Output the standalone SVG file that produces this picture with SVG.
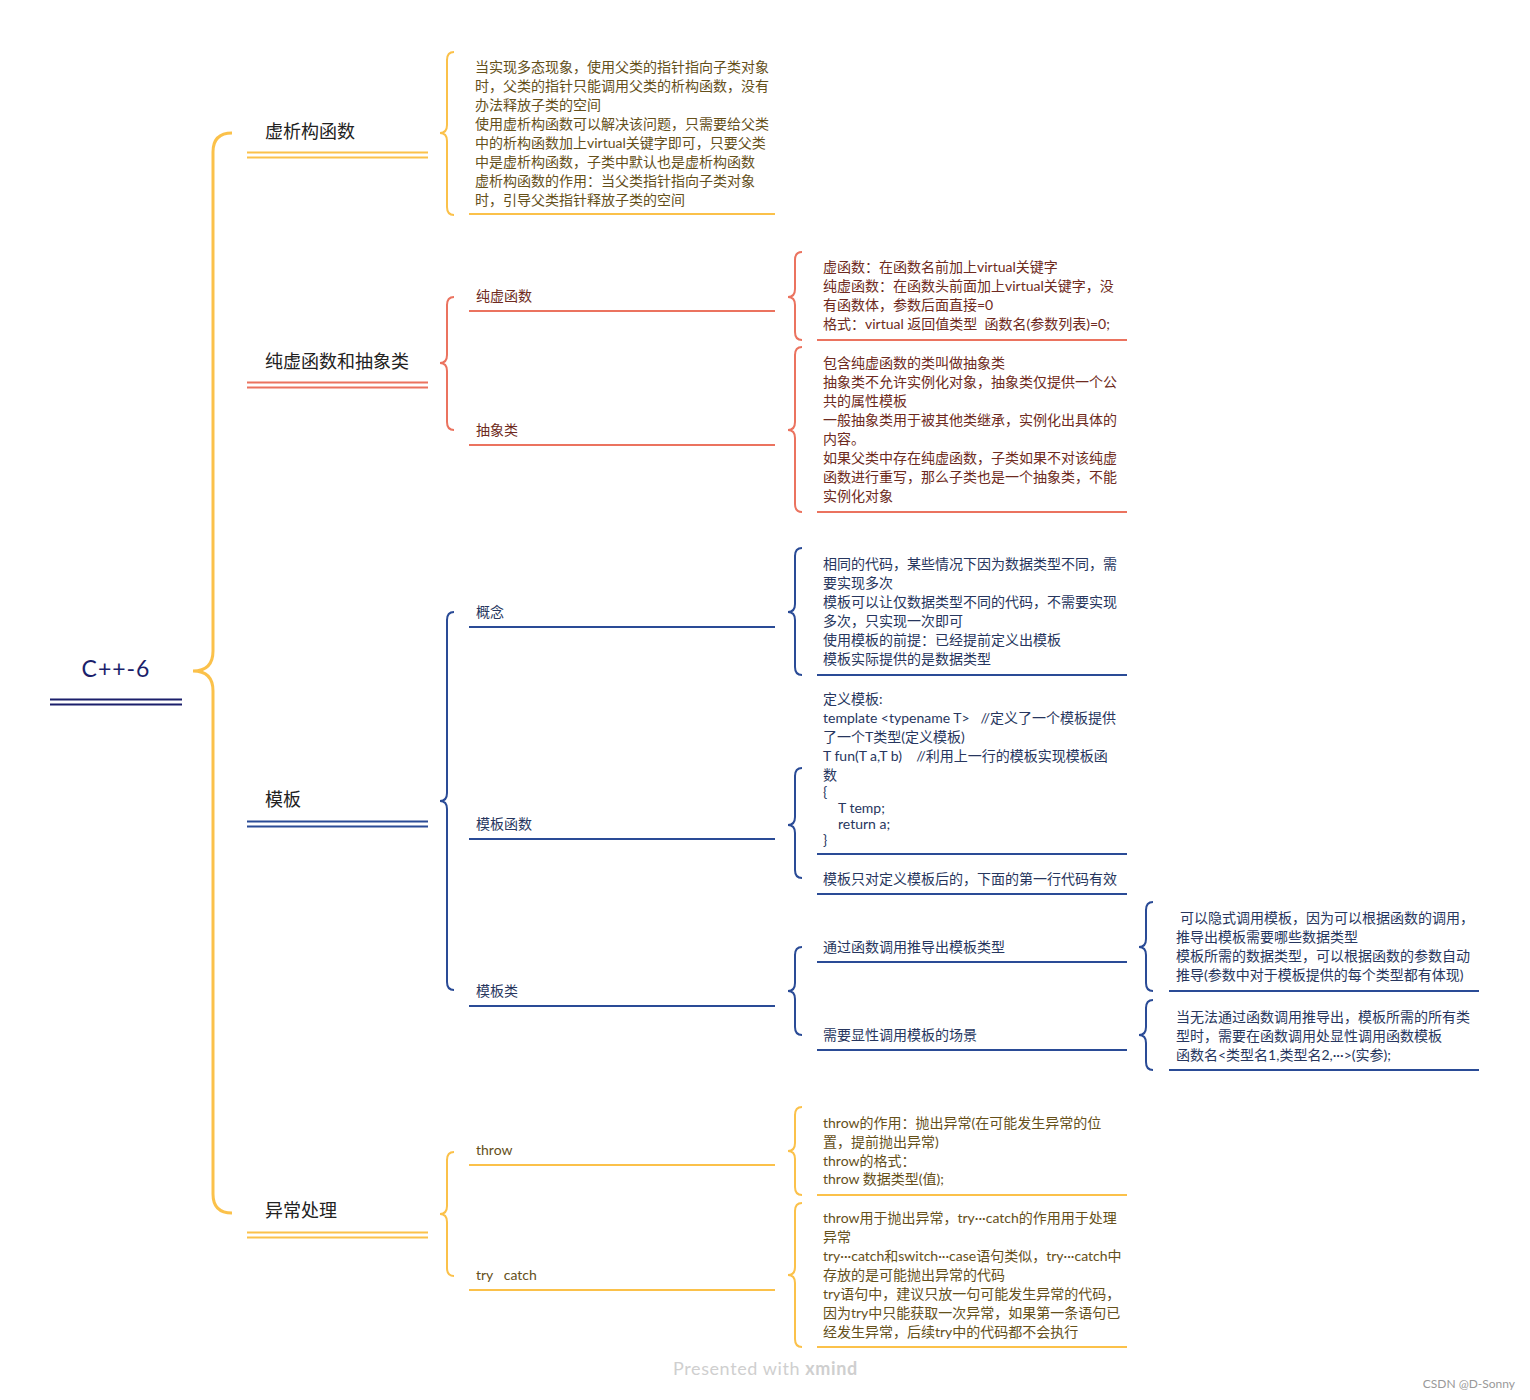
<svg xmlns="http://www.w3.org/2000/svg" width="1530" height="1400" viewBox="0 0 1530 1400">
<style>
text{font-family:Lato,"Noto Sans CJK SC","Noto Sans",sans-serif}
.root{font-size:23px;fill:#1B1F6B;text-anchor:middle;letter-spacing:1px}
.l1{font-size:18px;fill:#222}
.t{font-size:14px}
.ty{fill:#65501A}.tr{fill:#6E2A20}.tb{fill:#27365E}
.y{stroke:#FBC14A}.r{stroke:#EB735F}.b{stroke:#2A4B96}.n{stroke:#1B1F6B}
line{stroke-width:2}
.br{fill:none;stroke-width:2}
.main{fill:none;stroke-width:3}
.foot{font-size:18px;fill:#cfcfcf;letter-spacing:0.6px}
.csdn{font-size:12px;fill:#999;text-anchor:end}
</style>
<rect width="1530" height="1400" fill="#fff"/>
<g id="connectors">
<path class="main y" d="M232,133 Q213,133 213,152 L213,651 Q213,671 193,671 Q213,671 213,691 L213,1194 Q213,1213 232,1213"/>
<path class="br y" d="M454,52 Q447,52 447,60 L447,125 Q447,133 440,133 Q447,133 447,141 L447,207 Q447,215 454,215"/>
<path class="br r" d="M454,297 Q447,297 447,305 L447,355 Q447,363 440,363 Q447,363 447,371 L447,422 Q447,430 454,430"/>
<path class="br b" d="M454,612 Q447,612 447,620 L447,793 Q447,801 440,801 Q447,801 447,809 L447,982 Q447,990 454,990"/>
<path class="br y" d="M454,1152 Q447,1152 447,1160 L447,1206 Q447,1214 440,1214 Q447,1214 447,1222 L447,1268 Q447,1276 454,1276"/>
<path class="br r" d="M802,252 Q795,252 795,260 L795,289 Q795,297 788,297 Q795,297 795,305 L795,332 Q795,340 802,340"/>
<path class="br r" d="M802,347 Q795,347 795,355 L795,422 Q795,430 788,430 Q795,430 795,438 L795,504 Q795,512 802,512"/>
<path class="br b" d="M802,548 Q795,548 795,556 L795,604 Q795,612 788,612 Q795,612 795,620 L795,667 Q795,675 802,675"/>
<path class="br b" d="M802,768 Q795,768 795,776 L795,817 Q795,825 788,825 Q795,825 795,833 L795,870 Q795,878 802,878"/>
<path class="br b" d="M802,947 Q795,947 795,955 L795,983 Q795,991 788,991 Q795,991 795,999 L795,1027 Q795,1035 802,1035"/>
<path class="br y" d="M802,1107 Q795,1107 795,1115 L795,1143 Q795,1151 788,1151 Q795,1151 795,1159 L795,1187 Q795,1195 802,1195"/>
<path class="br y" d="M802,1203 Q795,1203 795,1211 L795,1267 Q795,1275 788,1275 Q795,1275 795,1283 L795,1339 Q795,1347 802,1347"/>
<path class="br b" d="M1153,902 Q1146,902 1146,910 L1146,939 Q1146,947 1139,947 Q1146,947 1146,955 L1146,983 Q1146,991 1153,991"/>
<path class="br b" d="M1153,1000 Q1146,1000 1146,1008 L1146,1027 Q1146,1035 1139,1035 Q1146,1035 1146,1043 L1146,1062 Q1146,1070 1153,1070"/>
</g>
<g id="root">
<text class="root" x="116" y="677">C++-6</text>
<line class="n" x1="50" y1="699.5" x2="182" y2="699.5" stroke-width="2.5"/>
<line class="n" x1="50" y1="704.5" x2="182" y2="704.5" stroke-width="2.5"/>
</g>
<g id="n-xigou">
<text class="l1" x="265" y="138">虚析构函数</text>
<line class="y" x1="247" y1="152.5" x2="428" y2="152.5"/>
<line class="y" x1="247" y1="157.5" x2="428" y2="157.5"/>
</g>
<g id="n-xigou-detail">
<text class="t ty" x="475" y="72">当实现多态现象，使用父类的指针指向子类对象</text>
<text class="t ty" x="475" y="91">时，父类的指针只能调用父类的析构函数，没有</text>
<text class="t ty" x="475" y="110">办法释放子类的空间</text>
<text class="t ty" x="475" y="129">使用虚析构函数可以解决该问题，只需要给父类</text>
<text class="t ty" x="475" y="148">中的析构函数加上virtual关键字即可，只要父类</text>
<text class="t ty" x="475" y="167">中是虚析构函数，子类中默认也是虚析构函数</text>
<text class="t ty" x="475" y="186">虚析构函数的作用：当父类指针指向子类对象</text>
<text class="t ty" x="475" y="205">时，引导父类指针释放子类的空间</text>
<line class="y" x1="469" y1="214" x2="775" y2="214"/>
</g>
<g id="n-chunxu">
<text class="l1" x="265" y="368">纯虚函数和抽象类</text>
<line class="r" x1="247" y1="382.5" x2="428" y2="382.5"/>
<line class="r" x1="247" y1="387.5" x2="428" y2="387.5"/>
</g>
<g id="n-chunxuhanshu">
<text class="t tr" x="476" y="301">纯虚函数</text>
<line class="r" x1="469" y1="311" x2="775" y2="311"/>
</g>
<g id="n-chunxuhanshu-detail">
<text class="t tr" x="823" y="272">虚函数：在函数名前加上virtual关键字</text>
<text class="t tr" x="823" y="291">纯虚函数：在函数头前面加上virtual关键字，没</text>
<text class="t tr" x="823" y="310">有函数体，参数后面直接=0</text>
<text class="t tr" x="823" y="329" xml:space="preserve">格式：virtual 返回值类型  函数名(参数列表)=0;</text>
<line class="r" x1="817" y1="340" x2="1127" y2="340"/>
</g>
<g id="n-chouxianglei">
<text class="t tr" x="476" y="435">抽象类</text>
<line class="r" x1="469" y1="445" x2="775" y2="445"/>
</g>
<g id="n-chouxianglei-detail">
<text class="t tr" x="823" y="368">包含纯虚函数的类叫做抽象类</text>
<text class="t tr" x="823" y="387">抽象类不允许实例化对象，抽象类仅提供一个公</text>
<text class="t tr" x="823" y="406">共的属性模板</text>
<text class="t tr" x="823" y="425">一般抽象类用于被其他类继承，实例化出具体的</text>
<text class="t tr" x="823" y="444">内容。</text>
<text class="t tr" x="823" y="463">如果父类中存在纯虚函数，子类如果不对该纯虚</text>
<text class="t tr" x="823" y="482">函数进行重写，那么子类也是一个抽象类，不能</text>
<text class="t tr" x="823" y="501">实例化对象</text>
<line class="r" x1="817" y1="512" x2="1127" y2="512"/>
</g>
<g id="n-muban">
<text class="l1" x="265" y="806">模板</text>
<line class="b" x1="247" y1="821.5" x2="428" y2="821.5"/>
<line class="b" x1="247" y1="826.5" x2="428" y2="826.5"/>
</g>
<g id="n-gainian">
<text class="t tb" x="476" y="617">概念</text>
<line class="b" x1="469" y1="627" x2="775" y2="627"/>
</g>
<g id="n-gainian-detail">
<text class="t tb" x="823" y="569">相同的代码，某些情况下因为数据类型不同，需</text>
<text class="t tb" x="823" y="588">要实现多次</text>
<text class="t tb" x="823" y="607">模板可以让仅数据类型不同的代码，不需要实现</text>
<text class="t tb" x="823" y="626">多次，只实现一次即可</text>
<text class="t tb" x="823" y="645">使用模板的前提：已经提前定义出模板</text>
<text class="t tb" x="823" y="664">模板实际提供的是数据类型</text>
<line class="b" x1="817" y1="675" x2="1127" y2="675"/>
</g>
<g id="n-mubanhanshu">
<text class="t tb" x="476" y="829">模板函数</text>
<line class="b" x1="469" y1="839" x2="775" y2="839"/>
</g>
<g id="n-mubanhanshu-code">
<text class="t tb" x="823" y="704">定义模板:</text>
<text class="t tb" x="823" y="723" xml:space="preserve">template &lt;typename T&gt;   //定义了一个模板提供</text>
<text class="t tb" x="823" y="742">了一个T类型(定义模板)</text>
<text class="t tb" x="823" y="761" xml:space="preserve">T fun(T a,T b)    //利用上一行的模板实现模板函</text>
<text class="t tb" x="823" y="780">数</text>
<text class="t tb" x="823" y="797">{</text>
<text class="t tb" x="838" y="813">T temp;</text>
<text class="t tb" x="838" y="829">return a;</text>
<text class="t tb" x="823" y="845">}</text>
<line class="b" x1="817" y1="854" x2="1127" y2="854"/>
</g>
<g id="n-mubanhanshu-note">
<text class="t tb" x="823" y="884">模板只对定义模板后的，下面的第一行代码有效</text>
<line class="b" x1="817" y1="894" x2="1127" y2="894"/>
</g>
<g id="n-mubanlei">
<text class="t tb" x="476" y="996">模板类</text>
<line class="b" x1="469" y1="1006" x2="775" y2="1006"/>
</g>
<g id="n-tuidao">
<text class="t tb" x="823" y="952">通过函数调用推导出模板类型</text>
<line class="b" x1="817" y1="962" x2="1127" y2="962"/>
</g>
<g id="n-tuidao-detail">
<text class="t tb" x="1180" y="923">可以隐式调用模板，因为可以根据函数的调用，</text>
<text class="t tb" x="1176" y="942">推导出模板需要哪些数据类型</text>
<text class="t tb" x="1176" y="961">模板所需的数据类型，可以根据函数的参数自动</text>
<text class="t tb" x="1176" y="980">推导(参数中对于模板提供的每个类型都有体现)</text>
<line class="b" x1="1169" y1="991" x2="1479" y2="991"/>
</g>
<g id="n-xianshi">
<text class="t tb" x="823" y="1040">需要显性调用模板的场景</text>
<line class="b" x1="817" y1="1050" x2="1127" y2="1050"/>
</g>
<g id="n-xianshi-detail">
<text class="t tb" x="1176" y="1022">当无法通过函数调用推导出，模板所需的所有类</text>
<text class="t tb" x="1176" y="1041">型时，需要在函数调用处显性调用函数模板</text>
<text class="t tb" x="1176" y="1060">函数名&lt;类型名1,类型名2,···&gt;(实参);</text>
<line class="b" x1="1169" y1="1070" x2="1479" y2="1070"/>
</g>
<g id="n-yichang">
<text class="l1" x="265" y="1217">异常处理</text>
<line class="y" x1="247" y1="1232.5" x2="428" y2="1232.5"/>
<line class="y" x1="247" y1="1237.5" x2="428" y2="1237.5"/>
</g>
<g id="n-throw">
<text class="t ty" x="476" y="1155">throw</text>
<line class="y" x1="469" y1="1165" x2="775" y2="1165"/>
</g>
<g id="n-throw-detail">
<text class="t ty" x="823" y="1128">throw的作用：抛出异常(在可能发生异常的位</text>
<text class="t ty" x="823" y="1147">置，提前抛出异常)</text>
<text class="t ty" x="823" y="1166">throw的格式：</text>
<text class="t ty" x="823" y="1184">throw 数据类型(值);</text>
<line class="y" x1="817" y1="1195" x2="1127" y2="1195"/>
</g>
<g id="n-trycatch">
<text class="t ty" x="476" y="1280" xml:space="preserve">try   catch</text>
<line class="y" x1="469" y1="1290" x2="775" y2="1290"/>
</g>
<g id="n-trycatch-detail">
<text class="t ty" x="823" y="1223">throw用于抛出异常，try···catch的作用用于处理</text>
<text class="t ty" x="823" y="1242">异常</text>
<text class="t ty" x="823" y="1261">try···catch和switch···case语句类似，try···catch中</text>
<text class="t ty" x="823" y="1280">存放的是可能抛出异常的代码</text>
<text class="t ty" x="823" y="1299">try语句中，建议只放一句可能发生异常的代码，</text>
<text class="t ty" x="823" y="1318">因为try中只能获取一次异常，如果第一条语句已</text>
<text class="t ty" x="823" y="1337">经发生异常，后续try中的代码都不会执行</text>
<line class="y" x1="817" y1="1347" x2="1127" y2="1347"/>
</g>
<text class="foot" x="673" y="1375">Presented with <tspan font-weight="bold">xmind</tspan></text>
<text class="csdn" x="1515" y="1388">CSDN @D-Sonny</text>
</svg>
